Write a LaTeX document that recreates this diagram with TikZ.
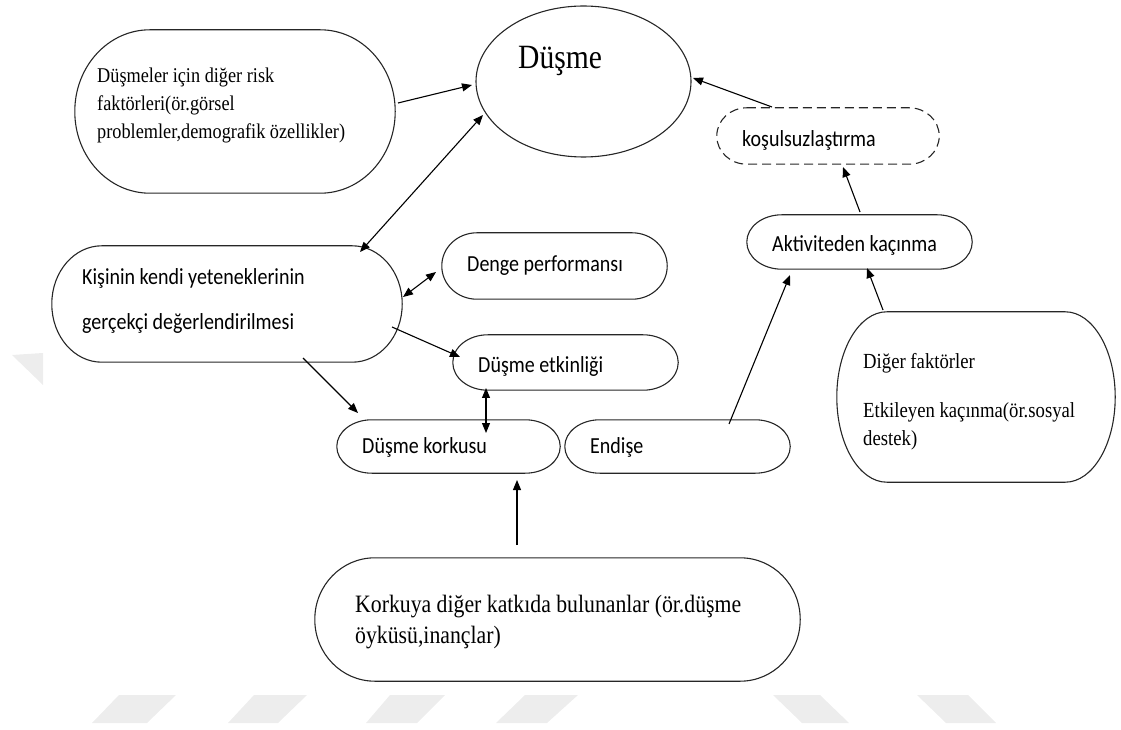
\documentclass[tikz,border=0pt]{standalone}
\usepackage{fontspec}
\usetikzlibrary{arrows.meta,shapes.geometric}
\newfontfamily\srf[FakeStretch=0.87]{Liberation Serif}
\newfontfamily\sns[FakeStretch=0.87]{Carlito}
\newcommand\ovalframe[4][]{%
  \draw[frame,#1] ([xshift=#3]#2.north west) -- ([xshift=-#3]#2.north east)
    arc[start angle=90,end angle=0,x radius=#3,y radius=#4]
    -- ([yshift=#4]#2.south east)
    arc[start angle=0,end angle=-90,x radius=#3,y radius=#4]
    -- ([xshift=#3]#2.south west)
    arc[start angle=270,end angle=180,x radius=#3,y radius=#4]
    -- ([yshift=-#4]#2.north west)
    arc[start angle=180,end angle=90,x radius=#3,y radius=#4] -- cycle;}
\begin{document}
\begin{tikzpicture}[x=1pt,y=1pt,
  frame/.style={draw=black!85, line width=1.1pt},
  area/.style={rectangle, inner sep=0pt, draw=none},
  arr/.style={-{Triangle[length=10pt,width=8pt]}, line width=1.1pt},
  darr/.style={{Triangle[length=10pt,width=8pt]}-{Triangle[length=10pt,width=8pt]}, line width=1.1pt},
  stxt/.style={font=\sns\fontsize{23}{28}\selectfont, inner sep=0pt, anchor=base west},
  rtxt/.style={inner sep=0pt, anchor=north west, align=left},
  wm/.style={fill=black!7, draw=none}]
\useasboundingbox (0,0) rectangle (1121,729);
% watermark
\fill[wm] (119,34) -- (176,34) -- (147,6) -- (92,6) -- cycle;
\fill[wm] (254,34) -- (307,34) -- (278,6) -- (228,6) -- cycle;
\fill[wm] (390,34) -- (445,34) -- (417,6) -- (366,6) -- cycle;
\fill[wm] (525,34) -- (578,34) -- (547,6) -- (496,6) -- cycle;
\fill[wm] (773,34) -- (820,34) -- (849,6) -- (802,6) -- cycle;
\fill[wm] (917,34) -- (968,34) -- (996,6) -- (946,6) -- cycle;
\fill[wm] (12,374) -- (43,376) -- (43,344) -- cycle;
% nodes
\node[area, minimum width=320pt, minimum height=163pt] (risk) at (235,617.5) {};
\ovalframe{risk}{75pt}{81.5pt}
\node[rtxt, font=\srf\fontsize{21}{28}\selectfont] (riskt) at (97,661.5)
  {Düşmeler için diğer risk\\faktörleri(ör.görsel\\problemler,demografik özellikler)};
\node[ellipse, frame, minimum width=215pt, minimum height=151pt, inner sep=0pt] (dusme) at (583.5,647.5) {};
\node[inner sep=0pt, anchor=base west, font=\srf\fontsize{34}{40}\selectfont] (dusmet) at (518,660) {Düşme};
\node[area, minimum width=222pt, minimum height=56pt] (kosul) at (828,593) {};
\ovalframe[dashed, dash pattern=on 9pt off 5pt]{kosul}{30pt}{28pt}
\node[stxt] (kosult) at (742,582) {koşulsuzlaştırma};
\node[area, minimum width=350pt, minimum height=116pt] (kisi) at (227,425) {};
\ovalframe{kisi}{50pt}{58pt}
\node[rtxt, font=\sns\fontsize{23}{45}\selectfont] (kisit) at (82,460.3)
  {Kişinin kendi yeteneklerinin\\gerçekçi değerlendirilmesi};
\node[area, minimum width=225pt, minimum height=66pt] (denge) at (554.5,463) {};
\ovalframe{denge}{35pt}{33pt}
\node[stxt] (denget) at (467,457) {Denge performansı};
\node[area, minimum width=225pt, minimum height=55pt] (etkin) at (565.5,366.5) {};
\ovalframe{etkin}{35pt}{27.5pt}
\node[stxt] (etkint) at (478,356) {Düşme etkinliği};
\node[area, minimum width=223pt, minimum height=53pt] (korku) at (448.5,282.5) {};
\ovalframe{korku}{35pt}{26.5pt}
\node[stxt] (korkut) at (362,276) {Düşme korkusu};
\node[area, minimum width=225pt, minimum height=53pt] (endise) at (677.5,282.5) {};
\ovalframe{endise}{35pt}{26.5pt}
\node[stxt] (endiset) at (590,276) {Endişe};
\node[area, minimum width=225pt, minimum height=54pt] (aktiv) at (859.5,487) {};
\ovalframe{aktiv}{35pt}{27pt}
\node[stxt] (aktivt) at (772,477) {Aktiviteden kaçınma};
\node[area, minimum width=278pt, minimum height=170pt] (diger) at (976,332) {};
\ovalframe{diger}{50pt}{85pt}
\node[rtxt, font=\srf\fontsize{21.5}{28}\selectfont] (digert) at (863,375.8)
  {Diğer faktörler\\[21pt]Etkileyen kaçınma(ör.sosyal\\destek)};
\node[area, minimum width=485pt, minimum height=123pt] (kork) at (557.5,109.5) {};
\ovalframe{kork}{60pt}{61.5pt}
\node[rtxt, font=\srf\fontsize{25}{31}\selectfont] (korkt) at (355,134.5)
  {Korkuya diğer katkıda bulunanlar (ör.düşme\\öyküsü,inançlar)};
% connectors
\draw[arr] ([shift={(163,8.5)}]risk.center) -- ([shift={(-111.5,-3.5)}]dusme.center);
\draw[darr] ([shift={(133,52)}]kisi.center) -- ([shift={(-100.5,-33.5)}]dusme.center);
\draw[darr] ([shift={(176,7)}]kisi.center) -- ([shift={(-118.5,-6)}]denge.center);
\draw[arr] ([shift={(165,-23)}]kisi.center) -- ([shift={(-105.5,5.5)}]etkin.center);
\draw[arr] ([shift={(76,-54)}]kisi.center) -- ([shift={(-90.5,33.5)}]korku.center);
\draw[darr] ([shift={(-79.5,-25.5)}]etkin.center) -- ([shift={(37.5,13.5)}]korku.center);
\draw[arr] ([shift={(51.5,22.5)}]endise.center) -- ([shift={(-69.5,-33)}]aktiv.center);
\draw[arr] ([shift={(-93,87)}]diger.center) -- ([shift={(7.5,-26)}]aktiv.center);
\draw[arr] ([shift={(0.5,30)}]aktiv.center) -- ([shift={(15,-31)}]kosul.center);
\draw[arr] ([shift={(-56,29)}]kosul.center) -- ([shift={(109.5,3.5)}]dusme.center);
\draw[arr] ([shift={(-40.5,74.5)}]kork.center) -- ([shift={(68.5,-33.5)}]korku.center);
\end{tikzpicture}
\end{document}
